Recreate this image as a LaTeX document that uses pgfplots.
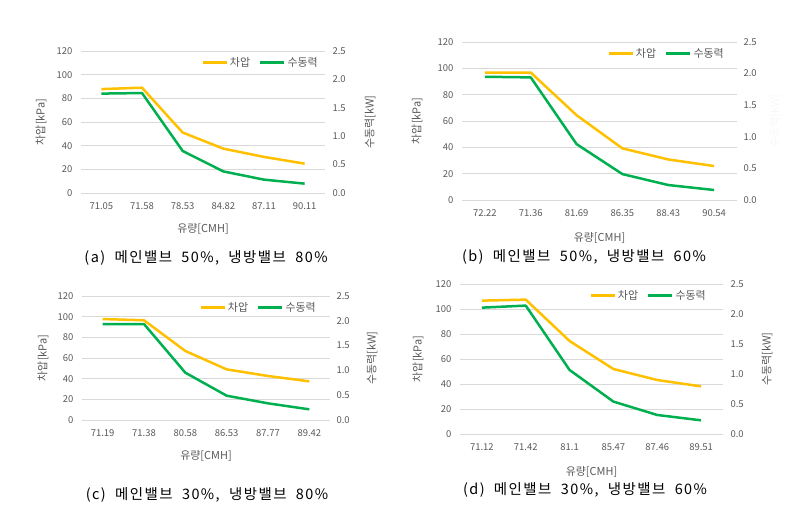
\documentclass[border=0pt]{standalone}
\usepackage{fontspec}
\setmainfont{Noto Sans CJK KR}
\newfontfamily\capfont[LetterSpace=10]{Noto Sans CJK KR}
\usepackage{pgfplots}
\pgfplotsset{compat=1.18}
\definecolor{cy}{HTML}{FFC000}
\definecolor{cg}{HTML}{00B050}
\definecolor{tg}{HTML}{595959}
\definecolor{gl}{HTML}{D9D9D9}
\pgfplotsset{
  base/.style={scale only axis, xmin=-0.5, xmax=5.5, xtick={0,...,5},
    axis line style={draw=none}, major tick length=0pt,
    /pgf/number format/assume math mode=true,
    ticklabel style={font=\fontsize{9.5}{11}\selectfont, text=tg},
    label style={font=\fontsize{11}{13}\selectfont, text=tg}},
  leftax/.style={base, ymin=0, ymax=120, ytick={0,20,...,120},
    axis y line*=left, axis x line*=bottom,
    ymajorgrids, grid style={gl, line width=0.8bp},
    yticklabel style={xshift=-5bp},
    xticklabel style={yshift=-6bp},
    xlabel style={at={(rel axis cs:0.5,0)}, anchor=center, yshift=-36bp},
    xlabel={유량[CMH]}, ylabel={차압[kPa]}},
  rightax/.style={base, ymin=0, ymax=2.5, ytick={0,0.5,...,2.5},
    axis y line*=right, axis x line=none,
    yticklabel style={xshift=4bp, /pgf/number format/fixed, /pgf/number format/fixed zerofill, /pgf/number format/precision=1},
    legend columns=2,
    legend style={draw=none, fill=none, font=\fontsize{11}{13}\selectfont, text=tg,
      at={(rel axis cs:1,1)}, anchor=north east,
      /tikz/every even column/.append style={column sep=7bp}},
    legend image code/.code={\draw[#1] (0bp,0bp) -- (24bp,0bp);}},
  ly/.style={cy, line width=2.5bp, line join=round},
  lg/.style={cg, line width=2.5bp, line join=round}
}
\begin{document}
\begin{tikzpicture}
\path[use as bounding box] (0,0) rectangle (785bp,-507bp);
% (a)
\begin{axis}[leftax, at={(81bp,-193bp)}, anchor=south west, width=244bp, height=142bp,
  xticklabels={71.05,71.58,78.53,84.82,87.11,90.11},
  ylabel style={at={(axis description cs:{-40/244},0.5)}, anchor=center}]
\addplot[ly] coordinates {(0,87.8) (1,89.0) (2,51.1) (3,37.5) (4,30.5) (5,24.8)};
\end{axis}
\begin{axis}[rightax, at={(81bp,-193bp)}, anchor=south west, width=244bp, height=142bp,
  ylabel={수동력[kW]},
  ylabel style={at={(axis description cs:{1+45/244},0.5)}, anchor=center},
  legend style={xshift=-2bp, yshift=-2bp}]
\addlegendimage{ly}\addlegendentry{차압}
\addplot[lg] coordinates {(0,1.75) (1,1.76) (2,0.74) (3,0.38) (4,0.235) (5,0.165)};
\addlegendentry{수동력}
\end{axis}
% (b)
\begin{axis}[leftax, at={(462bp,-200bp)}, anchor=south west, width=275bp, height=158bp,
  xticklabels={72.22,71.36,81.69,86.35,88.43,90.54},
  xlabel style={yshift=-2bp},
  ylabel style={at={(axis description cs:{-45/275},0.5)}, anchor=center}]
\addplot[ly] coordinates {(0,96.8) (1,96.8) (2,64.4) (3,39.2) (4,30.8) (5,25.8)};
\end{axis}
\begin{axis}[rightax, at={(462bp,-200bp)}, anchor=south west, width=275bp, height=158bp,
  ylabel={수동력[kW]},
  ylabel style={at={(axis description cs:{1+38/275},0.5)}, anchor=center, text=black!3},
  yticklabel style={xshift=-1bp},
  legend style={xshift=-8bp, yshift=-2bp}]
\addlegendimage{ly}\addlegendentry{차압}
\addplot[lg] coordinates {(0,1.95) (1,1.94) (2,0.884) (3,0.41) (4,0.237) (5,0.158)};
\addlegendentry{수동력}
\end{axis}
% (c)
\begin{axis}[leftax, at={(82bp,-420bp)}, anchor=south west, width=248bp, height=124bp,
  xticklabels={71.19,71.38,80.58,86.53,87.77,89.42},
  ylabel style={at={(axis description cs:{-39/248},0.5)}, anchor=center}]
\addplot[ly] coordinates {(0,97.7) (1,96.5) (2,66.8) (3,49.0) (4,42.6) (5,37.4)};
\end{axis}
\begin{axis}[rightax, at={(82bp,-420bp)}, anchor=south west, width=248bp, height=124bp,
  ylabel={수동력[kW]},
  ylabel style={at={(axis description cs:{1+42/248},0.5)}, anchor=center},
  yticklabel style={xshift=-1bp},
  legend style={xshift=-9bp, yshift=-2bp}]
\addlegendimage{ly}\addlegendentry{차압}
\addplot[lg] coordinates {(0,1.935) (1,1.935) (2,0.954) (3,0.49) (4,0.336) (5,0.215)};
\addlegendentry{수동력}
\end{axis}
% (d)
\begin{axis}[leftax, at={(460bp,-434bp)}, anchor=south west, width=263bp, height=150bp,
  xticklabels={71.12,71.42,81.1,85.47,87.46,89.51},
  xlabel style={yshift=-2bp},
  ylabel style={at={(axis description cs:{-42/263},0.5)}, anchor=center}]
\addplot[ly] coordinates {(0,106.7) (1,107.5) (2,74.4) (3,52.0) (4,43.2) (5,38.1)};
\end{axis}
\begin{axis}[rightax, at={(460bp,-434bp)}, anchor=south west, width=263bp, height=150bp,
  ylabel={수동력[kW]},
  ylabel style={at={(axis description cs:{1+44/263},0.5)}, anchor=center},
  legend style={xshift=-12bp, yshift=-2bp}]
\addlegendimage{ly}\addlegendentry{차압}
\addplot[lg] coordinates {(0,2.106) (1,2.14) (2,1.067) (3,0.54) (4,0.317) (5,0.228)};
\addlegendentry{수동력}
\end{axis}
% captions
\begin{scope}[every node/.style={font=\capfont\fontsize{14.5}{16}\selectfont}]
\node at (206bp,-258bp) {(a)\ \ 메인밸브\ \ 50\%,\ \ 냉방밸브\ \ 80\%};
\node at (584bp,-257bp) {(b)\ \ 메인밸브\ \ 50\%,\ \ 냉방밸브\ \ 60\%};
\node at (207bp,-495bp) {(c)\ \ 메인밸브\ \ 30\%,\ \ 냉방밸브\ \ 80\%};
\node at (585bp,-490bp) {(d)\ \ 메인밸브\ \ 30\%,\ \ 냉방밸브\ \ 60\%};
\end{scope}
\end{tikzpicture}
\end{document}
